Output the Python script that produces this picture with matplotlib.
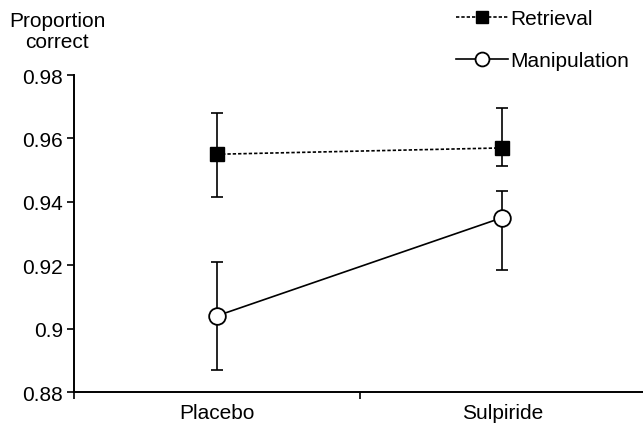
import matplotlib
matplotlib.use("Agg")
import matplotlib.pyplot as plt
from matplotlib.lines import Line2D

plt.rcParams["font.family"] = ["Liberation Sans", "DejaVu Sans"]

# data
conditions = ["Placebo", "Sulpiride"]
x_pos = [0.5, 1.5]

retrieval = [0.955, 0.957]
retrieval_err_low = [0.0135, 0.0057]
retrieval_err_high = [0.013, 0.0126]

manipulation = [0.904, 0.935]
manipulation_err_low = [0.017, 0.0164]
manipulation_err_high = [0.017, 0.0085]

y_ticks = [0.88, 0.9, 0.92, 0.94, 0.96, 0.98]
y_tick_labels = ["0.88", "0.9", "0.92", "0.94", "0.96", "0.98"]

fs = 15

fig = plt.figure(figsize=(6.43, 4.31), dpi=100)
ax = fig.add_axes([74 / 643, 38 / 431, 571 / 643, 317 / 431])

lw = 1.2
ax.errorbar(x_pos, retrieval, yerr=[retrieval_err_low, retrieval_err_high],
            fmt="none", ecolor="black", elinewidth=lw, capsize=4, capthick=lw, zorder=2)
ax.errorbar(x_pos, manipulation, yerr=[manipulation_err_low, manipulation_err_high],
            fmt="none", ecolor="black", elinewidth=lw, capsize=4, capthick=lw, zorder=2)

ax.plot(x_pos, retrieval, color="black", linestyle=(0, (2, 1.2)), linewidth=lw,
        marker="s", markersize=10.5, markerfacecolor="black", markeredgecolor="black", zorder=3)
ax.plot(x_pos, manipulation, color="black", linestyle="-", linewidth=lw,
        marker="o", markersize=12, markerfacecolor="white", markeredgecolor="black",
        markeredgewidth=1.3, zorder=3)

ax.set_xlim(0, 2)
ax.set_ylim(0.88, 0.98)
ax.set_yticks(y_ticks)
ax.set_yticklabels(y_tick_labels, fontsize=fs)
ax.set_xticks([0, 1, 2])
ax.set_xticklabels([])
ax.set_xticks(x_pos, minor=True)
ax.set_xticklabels(conditions, minor=True, fontsize=fs)
ax.tick_params(axis="x", which="minor", length=0, pad=8)
ax.tick_params(axis="both", which="major", direction="out", length=5, width=1.2)
ax.tick_params(axis="y", pad=3)

for side in ["top", "right"]:
    ax.spines[side].set_visible(False)
for side in ["left", "bottom"]:
    ax.spines[side].set_linewidth(1.4)

fig.text(57 / 643, 1 - 32 / 431, "Proportion\ncorrect", ha="center", va="center",
         fontsize=fs, linespacing=1.15)

handles = [
    Line2D([], [], color="black", linestyle=(0, (2, 1.2)), linewidth=lw, marker="s",
           markersize=8.5, markerfacecolor="black"),
    Line2D([], [], color="black", linestyle="-", linewidth=lw, marker="o",
           markersize=10, markerfacecolor="white", markeredgewidth=1.3),
]
fig.legend(handles, ["Retrieval", "Manipulation"], loc="upper left",
           bbox_to_anchor=(454 / 643, 1 - 8 / 431), frameon=False, fontsize=fs,
           handlelength=2.5, handletextpad=0.1, labelspacing=1.1, numpoints=1,
           borderpad=0.1, borderaxespad=0)

fig.savefig("out.png", dpi=100)
